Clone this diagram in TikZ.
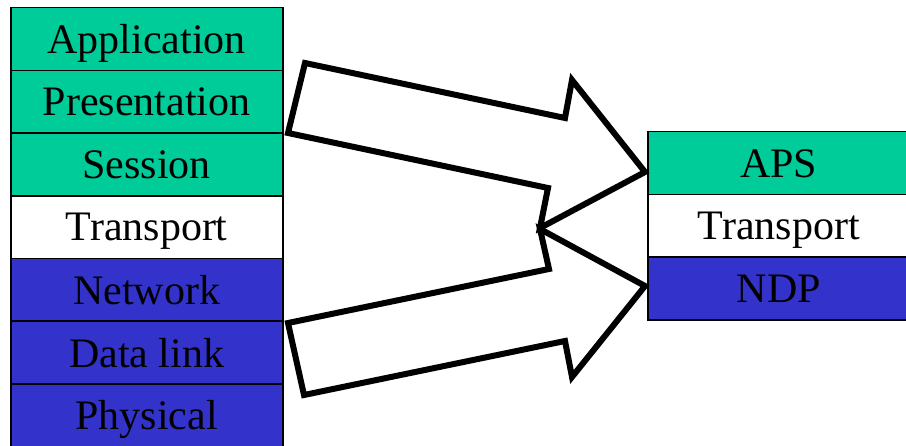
\documentclass[tikz,border=0pt]{standalone}
\usepackage{fontspec}
\setmainfont{Liberation Serif}
\definecolor{upper}{RGB}{0,204,153}
\definecolor{lower}{RGB}{51,51,204}
\begin{document}
\begin{tikzpicture}[x=1pt,y=-1pt,
  layer/.style={draw=black,line width=1.5pt,minimum height=62.7pt,inner sep=0pt,
    font=\fontsize{42}{48}\selectfont,text depth=0pt,anchor=north west},
  leftlayer/.style={layer,minimum width=272pt},
  rightlayer/.style={layer,minimum width=262pt},
  blockarrow/.style={draw=black,fill=white,line width=6pt,line join=miter,miter limit=10}]
\useasboundingbox (0,0) rectangle (906,446);
\node[leftlayer,fill=upper] (app) at (10,7) {Application};
\node[leftlayer,fill=upper] (pres) at (10,69.7) {Presentation};
\node[leftlayer,fill=upper] (sess) at (10,132.4) {Session};
\node[leftlayer,fill=white] (trans) at (10,195.1) {Transport};
\node[leftlayer,fill=lower] (net) at (10,257.8) {Network};
\node[leftlayer,fill=lower] (dl) at (10,320.5) {Data link};
\node[leftlayer,fill=lower] (phys) at (10,383.2) {Physical};
\node[rightlayer,fill=upper] (aps) at (647,131) {APS};
\node[rightlayer,fill=white] (rtrans) at (647,193.7) {Transport};
\node[rightlayer,fill=lower] (ndp) at (647,256.4) {NDP};
\coordinate (uptip) at (645,172);
\coordinate (lowtip) at (645,286);
\draw[blockarrow] (305,63) -- (565,118) -- (572,80) -- (uptip) -- (540,228) -- (548,188) -- (288,133) -- cycle;
\draw[blockarrow] (288,323) -- (549,269) -- (540,229) -- (lowtip) -- (572,377) -- (565,341) -- (304,395) -- cycle;
\end{tikzpicture}
\end{document}
